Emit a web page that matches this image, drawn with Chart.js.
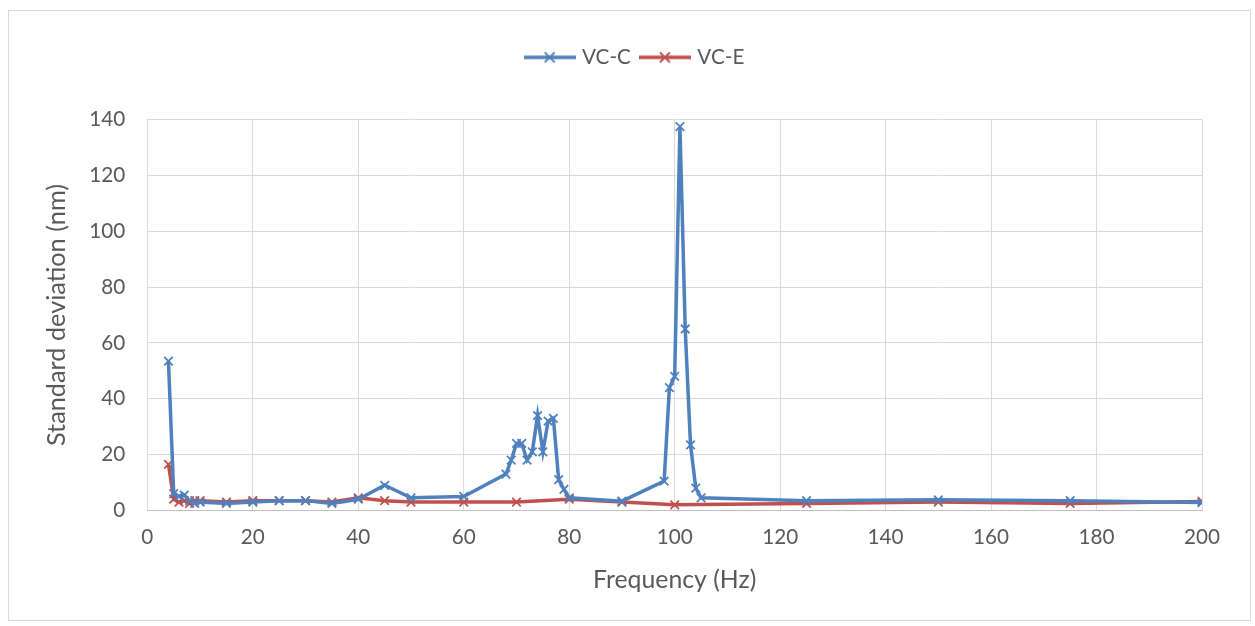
<!DOCTYPE html>
<html>
<head>
<meta charset="utf-8">
<script src="https://cdn.jsdelivr.net/npm/chart.js@4.4.1/dist/chart.umd.min.js"></script>
<style>
  html, body { margin: 0; padding: 0; background: #fff; }
  #frame {
    position: absolute; left: 8px; top: 10px;
    width: 1241px; height: 609px;
    border: 1px solid #d9d9d9; background: #fff;
  }
  #chart { display: block; }
</style>
</head>
<body>
<div id="frame"><canvas id="chart" width="1241" height="609"></canvas></div>
<script>
// VC-C readings (frequency Hz, std dev nm)
const vccFreq = [4, 5, 6, 7, 8, 9, 10, 15, 20, 25, 30, 35, 40, 45, 50, 60,
  68, 69, 70, 71, 72, 73, 74, 75, 76, 77, 78, 79, 80, 90,
  98, 99, 100, 101, 102, 103, 104, 105, 125, 150, 175, 200];
const vccStd = [53.5, 6, 5, 5.5, 3.5, 2.5, 3, 2.5, 3, 3.5, 3.5, 2.5, 4, 9, 4.5, 5,
  13, 18, 24, 24, 18, 21, 34, 21, 32, 33, 11, 7.5, 4.5, 3.3,
  10.5, 44, 48, 137.5, 65, 23.5, 8, 4.5, 3.5, 3.8, 3.5, 2.8];

// VC-E readings
const vceFreq = [4, 5, 6, 7, 8, 9, 10, 15, 20, 25, 30, 35, 40, 45, 50, 60, 70, 80, 90, 100, 125, 150, 175, 200];
const vceStd = [16.5, 4, 3, 3.5, 2.5, 3.5, 3.5, 3, 3.5, 3.5, 3.5, 3, 4.5, 3.5, 3, 3, 3, 4, 3, 2, 2.5, 3, 2.5, 3.2];

const seriesNames = ['VC-C', 'VC-E'];
const xTitle = 'Frequency (Hz)';
const yTitle = 'Standard deviation (nm)';

const BLUE = '#4f81bd';
const RED = '#c0504d';
const GREY_TEXT = '#595959';
const FONT = 'Lato, "Open Sans", sans-serif';

// the original uses Calibri; pick Lato sizes that give the same text widths
const measurer = document.createElement('canvas').getContext('2d');
function fitSize(text, width) {
  measurer.font = '100px ' + FONT;
  return Math.round(100 * width / measurer.measureText(text).width * 10) / 10;
}
const tickSize = fitSize('140', 36);
const xTitleSize = fitSize(xTitle, 163);
const yTitleSize = fitSize(yTitle, 262);
const legendSize = fitSize('VC-C', 49);

const toPoints = (xs, ys) => xs.map((x, i) => ({ x, y: ys[i] }));

// legend swatch: short line with a cross marker, like Excel
function legendIcon(color) {
  const c = document.createElement('canvas');
  c.width = 52; c.height = 14;
  const g = c.getContext('2d');
  g.strokeStyle = color;
  g.lineWidth = 3.5;
  g.beginPath(); g.moveTo(0, 7); g.lineTo(52, 7); g.stroke();
  g.lineWidth = 1.8;
  g.beginPath();
  g.moveTo(21, 2); g.lineTo(31, 12);
  g.moveTo(31, 2); g.lineTo(21, 12);
  g.stroke();
  return c;
}

// extra space between legend and plot, and centre the legend on the frame
const legendGap = {
  id: 'legendGap',
  beforeInit(chart) {
    const lg = chart.legend;
    const fit = lg.fit;
    lg.fit = function () {
      fit.bind(lg)();
      this.height += 42;
    };
    const draw = lg.draw;
    lg.draw = function () {
      const c = this.ctx;
      c.save();
      c.translate(14, 0);
      draw.bind(lg)();
      c.restore();
    };
  }
};

const ctx = document.getElementById('chart').getContext('2d');
new Chart(ctx, {
  type: 'line',
  data: {
    datasets: [
      {
        label: seriesNames[0],
        data: toPoints(vccFreq, vccStd),
        borderColor: BLUE,
        backgroundColor: BLUE,
        borderWidth: 3.5,
        pointStyle: 'crossRot',
        pointRadius: 6,
        pointBorderWidth: 1.8,
        tension: 0
      },
      {
        label: seriesNames[1],
        data: toPoints(vceFreq, vceStd),
        borderColor: RED,
        backgroundColor: RED,
        borderWidth: 3.5,
        pointStyle: 'crossRot',
        pointRadius: 6,
        pointBorderWidth: 1.8,
        tension: 0
      }
    ]
  },
  options: {
    responsive: false,
    animation: false,
    layout: { padding: { left: 33, right: 48, top: 24, bottom: 21 } },
    plugins: {
      legend: {
        position: 'top',
        labels: {
          color: GREY_TEXT,
          font: { family: FONT, size: legendSize },
          usePointStyle: true,
          pointStyleWidth: 44,
          padding: 12,
          generateLabels: (chart) => chart.data.datasets.map((ds, i) => ({
            text: ds.label,
            fontColor: GREY_TEXT,
            pointStyle: legendIcon(ds.borderColor),
            strokeStyle: ds.borderColor,
            fillStyle: ds.borderColor,
            lineWidth: 0,
            datasetIndex: i
          }))
        }
      },
      tooltip: { enabled: false }
    },
    scales: {
      x: {
        type: 'linear',
        min: 0,
        max: 200,
        ticks: { stepSize: 20, color: GREY_TEXT, font: { family: FONT, size: tickSize }, padding: 15 },
        grid: { color: '#d9d9d9', lineWidth: 1, drawTicks: false },
        border: { color: '#bfbfbf', width: 1 },
        title: { display: true, text: xTitle, color: GREY_TEXT, font: { family: FONT, size: xTitleSize }, padding: { top: 0, bottom: 4 } }
      },
      y: {
        min: 0,
        max: 140,
        ticks: { stepSize: 20, color: GREY_TEXT, font: { family: FONT, size: tickSize }, padding: 22 },
        grid: { color: '#d9d9d9', lineWidth: 1, drawTicks: false },
        border: { display: false },
        title: { display: true, text: yTitle, color: GREY_TEXT, font: { family: FONT, size: yTitleSize }, padding: { top: 0, bottom: -5 } }
      }
    }
  },
  plugins: [legendGap]
});
</script>
</body>
</html>
